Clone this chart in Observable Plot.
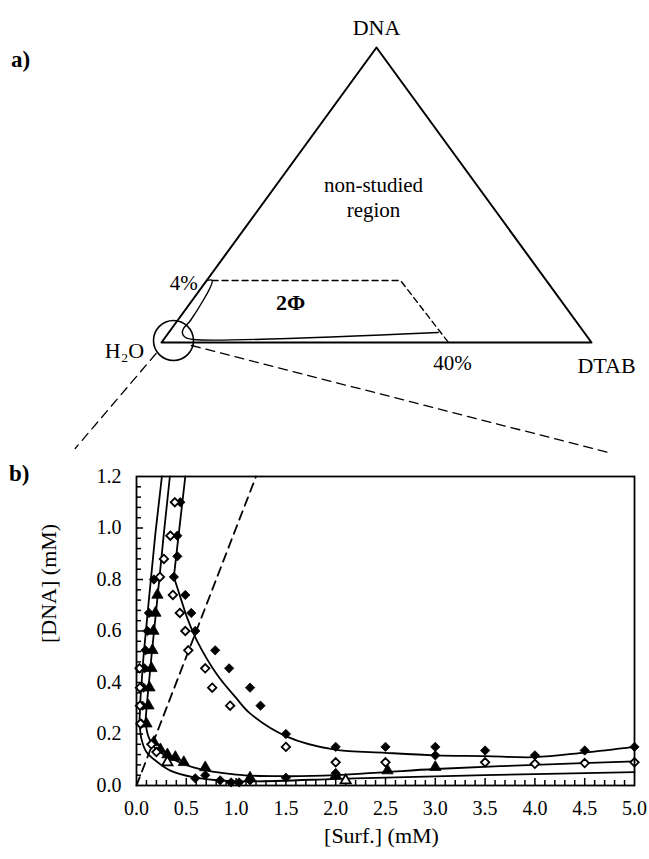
<!DOCTYPE html>
<html><head><meta charset="utf-8">
<script src="https://cdn.jsdelivr.net/npm/d3@7"></script>
<script src="https://cdn.jsdelivr.net/npm/@observablehq/plot@0.6"></script>
<style>
body{margin:0;background:#fff;}
#wrap{position:relative;width:649px;height:859px;font-family:"Liberation Serif","Times New Roman",serif;color:#000;}
#a,#b{position:absolute;left:0;}
#a{top:0px}
#b{top:460px}
.lab{position:absolute;font-weight:bold;font-size:23px;line-height:26px;}
</style></head><body>
<div id="wrap">
  <div id="a"></div>
  <div id="b"></div>
  <div class="lab" style="left:11px;top:47px">a)</div>
  <div class="lab" style="left:9px;top:461px">b)</div>
</div>
<script>
// ---------- Panel a: schematic ternary diagram (units of triangle side, H2O at origin) ----------
const vertexName = ["H\u2082O", "DTAB", "DNA"];
const vertexX = [0, 1, 0.5];
const vertexY = [0, 0, 0.866];
const dashX = [0.1177, 0.5558, 0.6674];
const dashY = [0.182, 0.182, 0];
const solidX = [0.105, 0.1177, 0.0674, 0.0512, 0.0488, 0.0558, 0.0744, 0.6437];
const solidY = [0.182, 0.182, 0.0646, 0.0411, 0.0264, 0.0147, 0.0088, 0.0294];
const circleX = [0.0279], circleY = [0.0059];
const zoomLeftX = [-0.0126, -0.2007], zoomLeftY = [-0.0323, -0.3112];
const zoomRightX = [0.0695, 1.0393], zoomRightY = [-0.0088, -0.3229];
const regionText = ["non-studied", "region"];
const regionX = [0.493, 0.493], regionY = [0.461, 0.3875];
const twoPhase = ["2\u03A6"], twoPhaseX = [0.30], twoPhaseY = [0.117];
const pctLabels = ["4%", "40%"];

// ---------- Panel b: data ----------
const xTicks = [0, 0.5, 1, 1.5, 2, 2.5, 3, 3.5, 4, 4.5, 5];
const yTicks = [0, 0.2, 0.4, 0.6, 0.8, 1.0, 1.2];
const xMinor = d3.range(1, 50).map(i => i / 10);
const yMinor = d3.range(1, 30).map(i => i * 0.04);

// filled diamonds
const fdX = [0.44,0.41,0.41,0.375,0.49,0.55,0.59,0.79,0.93,1.14,1.245,1.5,2.0,2.5,3.0,3.0,3.5,4.0,4.5,5.0,
             0.175,0.125,0.11,0.09,0.08,0.07,0.06,0.05,
             0.59,0.69,0.84,0.95,1.03,1.14,1.5,2.0];
const fdY = [1.10,0.97,0.89,0.81,0.74,0.67,0.60,0.525,0.455,0.38,0.31,0.20,0.15,0.15,0.15,0.117,0.136,0.117,0.136,0.15,
             0.80,0.67,0.60,0.525,0.455,0.38,0.31,0.24,
             0.028,0.04,0.02,0.012,0.012,0.02,0.03,0.048];
// open diamonds
const odX = [0.385,0.34,0.275,0.235,0.365,0.435,0.49,0.52,0.69,0.76,0.94,1.5,2.0,2.5,3.5,4.0,4.5,5.0,
             0.03,0.035,0.035,0.04,0.15,0.2];
const odY = [1.10,0.97,0.88,0.81,0.74,0.67,0.60,0.525,0.455,0.38,0.31,0.15,0.09,0.09,0.09,0.084,0.087,0.09,
             0.455,0.38,0.31,0.24,0.16,0.13];
// filled triangles
const ftX = [0.21,0.19,0.17,0.16,0.15,0.13,0.12,0.1,0.174,0.24,0.31,0.39,0.475,0.69,1.14,2.0,2.52,3.0];
const ftY = [0.74,0.67,0.60,0.525,0.455,0.38,0.31,0.24,0.168,0.14,0.12,0.11,0.09,0.07,0.03,0.04,0.058,0.071];
// open triangles
const otX = [0.31, 2.1];
const otY = [0.09, 0.02];

// boundary curves
const s1X = [0.255,0.19,0.124,0.07,0.04,0.03];
const s1Y = [1.2,0.98,0.72,0.50,0.34,0.25];
const l1X = [0.03,0.05,0.1,0.19,0.34,0.58,0.91,1.2,2.2,3.5,5.0];
const l1Y = [0.25,0.18,0.13,0.097,0.058,0.032,0.018,0.016,0.028,0.04,0.052];
const s2X = [0.335,0.275,0.208,0.15,0.11,0.09];
const s2Y = [1.2,0.98,0.72,0.50,0.34,0.25];
const l2X = [0.09,0.12,0.2,0.35,0.58,1.0,1.5,2.0,2.5,3.0,4.0,5.0];
const l2Y = [0.25,0.19,0.14,0.105,0.069,0.042,0.036,0.04,0.052,0.064,0.08,0.094];
const s3X = [0.49,0.425,0.375];
const s3Y = [1.2,0.98,0.81];
const l3X = [0.375,0.45,0.51,0.61,0.81,1.0,1.14,1.51,1.98,2.5,3.0,3.5,4.0,4.5,5.0];
const l3Y = [0.81,0.72,0.65,0.56,0.43,0.34,0.28,0.19,0.14,0.127,0.117,0.114,0.11,0.128,0.15];
const neutralX = [0, 1.2];
const neutralY = [0, 1.2];

const pts = (X, Y) => X.map((x, i) => ({x, y: Y[i]}));
const FONT = "'Liberation Serif','Times New Roman',serif";

// ---------- draw panel a ----------
const tri = pts(vertexX, vertexY); tri.push(tri[0]);
const A = Plot.plot({
  width: 649, height: 460,
  style: {fontFamily: FONT, background: "#fff"},
  x: {domain: [0, 1], range: [161, 591], axis: null},
  y: {domain: [0, 0.866], range: [342, 47], axis: null},
  marks: [
    Plot.line(tri, {x: "x", y: "y", stroke: "black", strokeWidth: 2}),
    Plot.line(pts(dashX, dashY), {x: "x", y: "y", stroke: "black", strokeWidth: 1.4, strokeDasharray: "6,4"}),
    Plot.line(pts(solidX, solidY), {x: "x", y: "y", stroke: "black", strokeWidth: 1.4, curve: "catmull-rom"}),
    Plot.dot(pts(circleX, circleY), {x: "x", y: "y", r: 20, stroke: "black", fill: "none", strokeWidth: 1.6}),
    Plot.line(pts(zoomLeftX, zoomLeftY), {x: "x", y: "y", stroke: "black", strokeWidth: 1.3, strokeDasharray: "9,6"}),
    Plot.line(pts(zoomRightX, zoomRightY), {x: "x", y: "y", stroke: "black", strokeWidth: 1.3, strokeDasharray: "9,6"}),
    Plot.text([0], {x: () => vertexX[2], y: () => vertexY[2], text: () => vertexName[2], dy: -20, fontSize: 22}),
    Plot.text([0], {x: () => vertexX[0], y: () => vertexY[0], text: () => vertexName[0], dx: -37, dy: 8, fontSize: 22}),
    Plot.text([0], {x: () => vertexX[1], y: () => vertexY[1], text: () => vertexName[1], dx: 15, dy: 23, fontSize: 22}),
    Plot.text([0], {x: () => 0.105, y: () => dashY[0], text: () => pctLabels[0], dx: -23, dy: 3, fontSize: 21}),
    Plot.text([0], {x: () => dashX[2], y: () => dashY[2], text: () => pctLabels[1], dx: 4, dy: 21, fontSize: 21}),
    Plot.text(regionText, {x: (d, i) => regionX[i], y: (d, i) => regionY[i], text: d => d, fontSize: 21}),
    Plot.text(twoPhase, {x: (d, i) => twoPhaseX[i], y: (d, i) => twoPhaseY[i], text: d => d, fontSize: 22, fontWeight: "bold"})
  ]
});
document.getElementById("a").appendChild(A);

// ---------- draw panel b ----------
const plotW = 649 - 136 - 15, plotH = 399 - 16 - 74;
const pxX = 5 / plotW, pxY = 1.2 / plotH;   // data units per pixel
const isMajorX = v => Math.abs(v * 2 - Math.round(v * 2)) < 1e-6;
const isMajorY = v => Math.abs(v * 5 - Math.round(v * 5)) < 1e-6;

const B = Plot.plot({
  width: 649, height: 399,
  marginTop: 16, marginBottom: 74, marginLeft: 136, marginRight: 15,
  style: {fontFamily: FONT, fontSize: "19px", background: "#fff"},
  x: {domain: [0, 5]},
  y: {domain: [0, 1.2]},
  marks: [
    Plot.axisX({ticks: xTicks, tickSize: 0, tickPadding: 15, tickFormat: d3.format(".1f"), fontSize: 20, label: null}),
    Plot.axisY({ticks: yTicks, tickSize: 0, tickPadding: 15, tickFormat: d3.format(".1f"), fontSize: 20, label: null}),
    Plot.ruleX(xMinor, {x: d => d, y1: 0, y2: d => (isMajorX(d) ? 7 : 5) * pxY, stroke: "black", strokeWidth: 1.5}),
    Plot.ruleY(yMinor, {y: d => d, x1: 0, x2: d => (isMajorY(d) ? 7 : 5) * pxX, stroke: "black", strokeWidth: 1.5}),
    Plot.line(pts(neutralX, neutralY), {x: "x", y: "y", stroke: "black", strokeWidth: 1.8, strokeDasharray: "9,6"}),
    Plot.line(pts(s1X, s1Y), {x: "x", y: "y", stroke: "black", strokeWidth: 1.8}),
    Plot.line(pts(l1X, l1Y), {x: "x", y: "y", stroke: "black", strokeWidth: 1.8, curve: "catmull-rom"}),
    Plot.line(pts(s2X, s2Y), {x: "x", y: "y", stroke: "black", strokeWidth: 1.8}),
    Plot.line(pts(l2X, l2Y), {x: "x", y: "y", stroke: "black", strokeWidth: 1.8, curve: "catmull-rom"}),
    Plot.line(pts(s3X, s3Y), {x: "x", y: "y", stroke: "black", strokeWidth: 1.8}),
    Plot.line(pts(l3X, l3Y), {x: "x", y: "y", stroke: "black", strokeWidth: 1.8, curve: "catmull-rom"}),
    Plot.dot(pts(ftX, ftY), {x: "x", y: "y", symbol: "triangle", r: 4.2, fill: "black", stroke: "black", strokeWidth: 0.8}),
    Plot.dot(pts(otX, otY), {x: "x", y: "y", symbol: "triangle", r: 3.8, fill: "white", stroke: "black", strokeWidth: 1.8}),
    Plot.dot(pts(fdX, fdY), {x: "x", y: "y", symbol: "diamond2", r: 4.2, fill: "black", stroke: "black", strokeWidth: 0.8}),
    Plot.dot(pts(odX, odY), {x: "x", y: "y", symbol: "diamond2", r: 3.8, fill: "white", stroke: "black", strokeWidth: 1.8}),
    Plot.frame({stroke: "black", strokeWidth: 1.8}),
    Plot.text(["[DNA] (mM)"], {frameAnchor: "left", text: d => d, rotate: -90, dx: -88, dy: 12, fontSize: 22}),
    Plot.text(["[Surf.] (mM)"], {frameAnchor: "bottom", text: d => d, dx: -4, dy: 57, fontSize: 22})
  ]
});
document.getElementById("b").appendChild(B);
</script>
</body></html>
